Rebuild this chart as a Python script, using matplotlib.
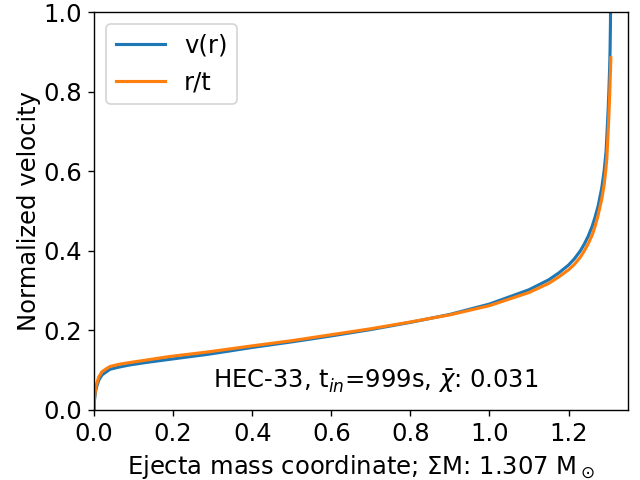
import numpy as np
import matplotlib
matplotlib.use('Agg')
import matplotlib.pyplot as plt
from matplotlib.ticker import MultipleLocator

# mass coordinate (M_sun) and normalized velocities
mass = [0.0, 0.001, 0.004, 0.007, 0.012, 0.02, 0.03, 0.04, 0.06, 0.09, 0.13,
        0.19, 0.29, 0.4, 0.5, 0.6, 0.7, 0.8, 0.9, 1.0, 1.1, 1.15, 1.175, 1.2,
        1.215, 1.23, 1.24, 1.25, 1.26, 1.267, 1.275, 1.284, 1.29, 1.295,
        1.297, 1.3, 1.302, 1.304, 1.305, 1.306, 1.307]
v_r = [0.0, 0.025, 0.048, 0.06, 0.075, 0.088, 0.095, 0.102, 0.107, 0.113,
       0.119, 0.127, 0.14, 0.157, 0.171, 0.186, 0.202, 0.22, 0.24, 0.266,
       0.302, 0.327, 0.344, 0.364, 0.38, 0.4, 0.417, 0.437, 0.462, 0.484,
       0.513, 0.558, 0.6, 0.65, 0.69, 0.75, 0.8, 0.86, 0.9, 0.97, 1.1]
r_t = [0.0, 0.03, 0.055, 0.067, 0.083, 0.096, 0.103, 0.109, 0.114, 0.119,
       0.125, 0.134, 0.146, 0.161, 0.174, 0.189, 0.204, 0.221, 0.239, 0.262,
       0.295, 0.318, 0.334, 0.352, 0.366, 0.384, 0.4, 0.418, 0.44, 0.461,
       0.49, 0.53, 0.565, 0.61, 0.635, 0.695, 0.74, 0.79, 0.82, 0.85, 0.885]
total_mass = 1.307

plt.rcParams['font.size'] = 14

fig, ax = plt.subplots(figsize=(5.12, 3.84), dpi=125)
ax.plot(mass, v_r, lw=1.8, label='v(r)')
ax.plot(mass, r_t, lw=1.8, label='r/t')
ax.set_xlim(0, 1.35)
ax.set_ylim(0, 1)
ax.xaxis.set_major_locator(MultipleLocator(0.2))
ax.set_xlabel('Ejecta mass coordinate; ΣM: %.3f M$_\\odot$' % total_mass)
ax.set_ylabel('Normalized velocity', labelpad=1)
ax.text(0.528, 0.073, 'HEC-33, t$_{in}$=999s, $\\bar{\\chi}$: 0.031',
        transform=ax.transAxes, ha='center', va='center')
ax.legend(loc='upper left')

fig.subplots_adjust(left=0.147, right=0.981, top=0.975, bottom=0.146)
fig.savefig('out.png')
